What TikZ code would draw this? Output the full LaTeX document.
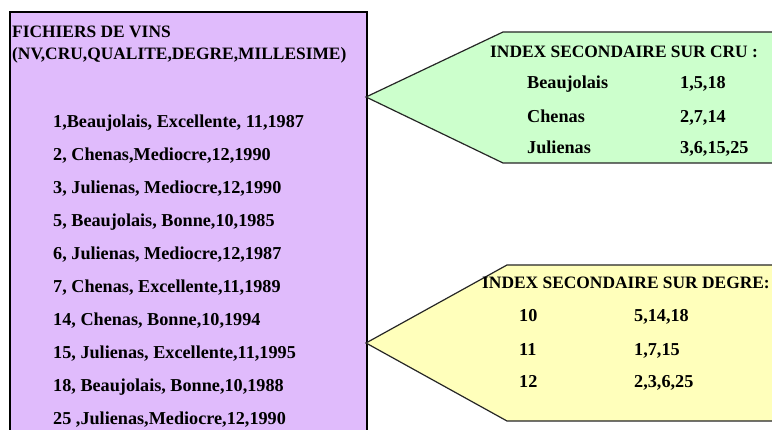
\documentclass[tikz,border=0pt]{standalone}
\usepackage{fontspec}
\setmainfont{Liberation Serif}
\definecolor{fichfill}{RGB}{224,187,252}
\definecolor{crufill}{RGB}{204,255,204}
\definecolor{degfill}{RGB}{255,255,187}
\tikzset{
  px/.style={x=1pt,y=-1pt},
  hdr/.style={anchor=base west,inner sep=0pt,font=\fontsize{17.4}{17.4}\selectfont\bfseries},
  row/.style={anchor=base west,inner sep=0pt,font=\fontsize{18.2}{18.2}\selectfont\bfseries},
  fichbox/.style={fill=fichfill,draw=black,line width=2pt},
  idxshape/.style={draw=black!85,line width=1.2pt,line join=miter},
}
\begin{document}
\begin{tikzpicture}[px]
\useasboundingbox (0,0) rectangle (772,430);
\clip (0,0) rectangle (772,430);
\fill[white] (0,0) rectangle (772,430);

% file of wines
\draw[fichbox] (10,12) rectangle (367,445);
\coordinate (fichR1) at (366,97);
\coordinate (fichR2) at (366,343);

\node[hdr] (h1) at (12,37.5) {FICHIERS DE VINS};
\node[hdr] (h2) at (12,59.5) {(NV,CRU,QUALITE,DEGRE,MILLESIME)};

\foreach \k/\txt in {
  0/{1,Beaujolais, Excellente, 11,1987},
  1/{2, Chenas,Mediocre,12,1990},
  2/{3, Julienas, Mediocre,12,1990},
  3/{5, Beaujolais, Bonne,10,1985},
  4/{6, Julienas, Mediocre,12,1987},
  5/{7, Chenas, Excellente,11,1989},
  6/{14, Chenas, Bonne,10,1994},
  7/{15, Julienas, Excellente,11,1995},
  8/{18, Beaujolais, Bonne,10,1988},
  9/{25 ,Julienas,Mediocre,12,1990}}
  \node[row] (r\k) at (53,128+33*\k) {\txt};

% secondary index on CRU
\draw[idxshape,fill=crufill] (fichR1) -- (503,32) -- (800,32) -- (800,163) -- (503,163) -- cycle;
\node[hdr] (cruh) at (490,58) {INDEX SECONDAIRE SUR CRU :};
\node[row] (c1) at (527,89) {Beaujolais};
\node[row] (c1n) at (680,89) {1,5,18};
\node[row] (c2) at (527,122.5) {Chenas};
\node[row] (c2n) at (680,122.5) {2,7,14};
\node[row] (c3) at (527,154) {Julienas};
\node[row] (c3n) at (680,154) {3,6,15,25};

% secondary index on DEGRE
\draw[idxshape,fill=degfill] (fichR2) -- (507,265) -- (800,265) -- (800,421) -- (507,421) -- cycle;
\node[hdr] (degh) at (482,289) {INDEX SECONDAIRE SUR DEGRE:};
\node[row] (d1) at (519,322) {10};
\node[row] (d1n) at (634,322) {5,14,18};
\node[row] (d2) at (519,356) {11};
\node[row] (d2n) at (634,356) {1,7,15};
\node[row] (d3) at (519,388) {12};
\node[row] (d3n) at (634,388) {2,3,6,25};
\end{tikzpicture}
\end{document}
